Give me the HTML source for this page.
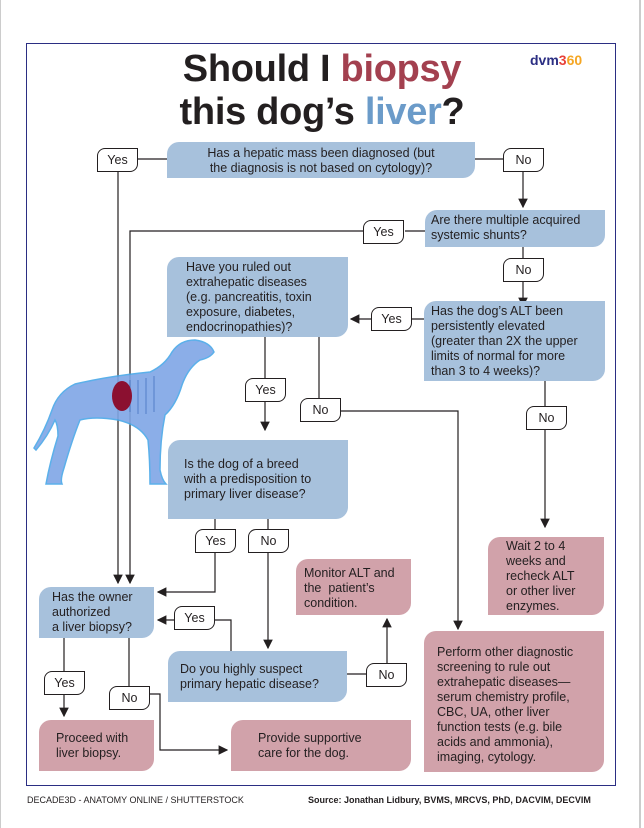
<!DOCTYPE html>
<html><head><meta charset="utf-8"><style>
body{margin:0;width:644px;height:828px;background:#fff;position:relative;overflow:hidden;font-family:"Liberation Sans",sans-serif;color:#231f20}
.pg{position:absolute;left:0;top:0;width:641px;height:828px;border-left:1px solid #ccc;border-right:2px solid #ccc;box-sizing:border-box}
.frame{position:absolute;left:26px;top:43px;width:590px;height:743px;border:1.5px solid #2b2e83;box-sizing:border-box}
.b{position:absolute;box-sizing:border-box;font-size:12.5px;line-height:15px;border-radius:12px 0 12px 0}
.bl{background:#a7c1dc}.pk{background:#d1a2aa}
.lab{position:absolute;width:41px;height:24px;border:1.3px solid #231f20;background:#fff;border-radius:8px 0 8px 0;box-sizing:border-box;font-size:12.5px;text-align:center;line-height:22px}
h1{position:absolute;left:0;width:644px;text-align:center;margin:0;font-size:38px;font-weight:bold;line-height:46px;letter-spacing:-0.3px}
svg.l{position:absolute;left:0;top:0}
</style></head><body>
<div class="pg"></div>
<div class="frame"></div>
<h1 style="top:46px">Should I <span style="color:#a3404f">biopsy</span></h1>
<h1 style="top:89px">this dog’s <span style="color:#6b9bc9">liver</span>?</h1>
<div style="position:absolute;left:530px;top:52px;font-size:14px;font-weight:bold;color:#2b2e83">dvm<span style="color:#e8423a">3</span><span style="color:#f5a623">60</span></div>

<svg class="l" width="644" height="828">
<defs><marker id="a" markerWidth="8" markerHeight="8" refX="7" refY="4" orient="auto"><path d="M0,0L8,4L0,8z" fill="#231f20"/></marker></defs>
<g stroke="#231f20" stroke-width="1.2" fill="none">
<path d="M138,159H167M475,159H503"/>
<path d="M118,170V583" marker-end="url(#a)"/>
<path d="M523,170V207" marker-end="url(#a)"/>
<path d="M425,231H405M363,231H130V583" marker-end="url(#a)"/>
<path d="M523,247V258M523,280V306" marker-end="url(#a)"/>
<path d="M424,319H411M371,319H351" marker-end="url(#a)"/>
<path d="M265,337V378M265,402V430" marker-end="url(#a)"/>
<path d="M319,337V398M340,411H458V629" marker-end="url(#a)"/>
<path d="M545,381V406M545,430V527" marker-end="url(#a)"/>
<path d="M215,519V529M268,519V529"/>
<path d="M215,553V592H158" marker-end="url(#a)"/>
<path d="M268,553V648" marker-end="url(#a)"/>
<path d="M231,651V620H214M174,620H158" marker-end="url(#a)"/>
<path d="M347,674H366M387,663V619" marker-end="url(#a)"/>
<path d="M64,638V671M64,695V716" marker-end="url(#a)"/>
<path d="M129,638V686M149,694H160V750H227" marker-end="url(#a)"/>
</g>
</svg>

<svg class="l" width="644" height="828">
<g fill="#7fa6e6" stroke="#4aa8e8" stroke-width="1.5" opacity="0.9">
<path d="M34,448 Q45,430 52,410 Q58,392 75,384 Q110,376 150,372 Q165,365 172,352 Q180,340 195,340 Q210,342 214,352 Q210,358 200,360 Q188,368 182,385 Q176,405 165,415 Q160,440 160,470 Q162,480 166,484 L150,484 Q150,460 148,440 Q140,425 118,420 Q95,416 80,420 Q72,440 64,468 Q60,480 62,484 L46,484 Q50,462 58,436 Q58,425 55,420 Q48,436 36,450 Z"/>
</g>
<g stroke="#2e5fb0" stroke-width="1" fill="none" opacity="0.6">
<path d="M130,380V412M138,380V414M146,378V414M154,376V412"/>
</g>
<ellipse cx="122" cy="396" rx="10" ry="15" fill="#8b1030"/>
</svg>

<div class="b bl" style="left:167px;top:142px;width:308px;height:36px;text-align:center;padding-top:4px">Has a hepatic mass been diagnosed (but<br>the diagnosis is not based on cytology)?</div>
<div class="lab" style="left:97px;top:148px">Yes</div>
<div class="lab" style="left:503px;top:148px">No</div>
<div class="b bl" style="left:425px;top:210px;width:180px;height:37px;padding:3px 0 0 6px">Are there multiple acquired<br>systemic shunts?</div>
<div class="lab" style="left:363px;top:220px">Yes</div>
<div class="lab" style="left:503px;top:258px">No</div>
<div class="b bl" style="left:167px;top:257px;width:181px;height:80px;padding:3px 0 0 19px">Have you ruled out<br>extrahepatic diseases<br>(e.g. pancreatitis, toxin<br>exposure, diabetes,<br>endocrinopathies)?</div>
<div class="b bl" style="left:424px;top:301px;width:181px;height:80px;padding:3px 0 0 7px">Has the dog’s ALT been<br>persistently elevated<br>(greater than 2X the upper<br>limits of normal for more<br>than 3 to 4 weeks)?</div>
<div class="lab" style="left:371px;top:307px">Yes</div>
<div class="lab" style="left:245px;top:378px">Yes</div>
<div class="lab" style="left:300px;top:398px">No</div>
<div class="lab" style="left:526px;top:406px">No</div>
<div class="b bl" style="left:168px;top:440px;width:180px;height:79px;padding:17px 0 0 16px">Is the dog of a breed<br>with a predisposition to<br>primary liver disease?</div>
<div class="lab" style="left:195px;top:529px">Yes</div>
<div class="lab" style="left:248px;top:529px">No</div>
<div class="b pk" style="left:488px;top:537px;width:116px;height:78px;padding:2px 0 0 18px">Wait 2 to 4<br>weeks and<br>recheck ALT<br>or other liver<br>enzymes.</div>
<div class="b pk" style="left:296px;top:559px;width:115px;height:56px;padding:7px 0 0 8px">Monitor ALT and<br>the &nbsp;patient’s<br>condition.</div>
<div class="b bl" style="left:39px;top:587px;width:115px;height:51px;padding:3px 0 0 13px">Has the owner<br>authorized<br>a liver biopsy?</div>
<div class="lab" style="left:174px;top:606px">Yes</div>
<div class="b pk" style="left:424px;top:631px;width:180px;height:141px;padding:14px 0 0 13px">Perform other diagnostic<br>screening to rule out<br>extrahepatic diseases—<br>serum chemistry profile,<br>CBC, UA, other liver<br>function tests (e.g. bile<br>acids and ammonia),<br>imaging, cytology.</div>
<div class="b bl" style="left:168px;top:651px;width:179px;height:51px;padding:11px 0 0 12px">Do you highly suspect<br>primary hepatic disease?</div>
<div class="lab" style="left:366px;top:663px">No</div>
<div class="lab" style="left:44px;top:671px">Yes</div>
<div class="lab" style="left:109px;top:686px">No</div>
<div class="b pk" style="left:39px;top:720px;width:115px;height:51px;padding:11px 0 0 17px">Proceed with<br>liver biopsy.</div>
<div class="b pk" style="left:231px;top:720px;width:180px;height:51px;padding:11px 0 0 27px">Provide supportive<br>care for the dog.</div>
<div style="position:absolute;left:27px;top:795px;font-size:9px">DECADE3D - ANATOMY ONLINE / SHUTTERSTOCK</div>
<div style="position:absolute;left:308px;top:795px;font-size:9px;font-weight:bold">Source: Jonathan Lidbury, BVMS, MRCVS, PhD, DACVIM, DECVIM</div>
</body></html>
